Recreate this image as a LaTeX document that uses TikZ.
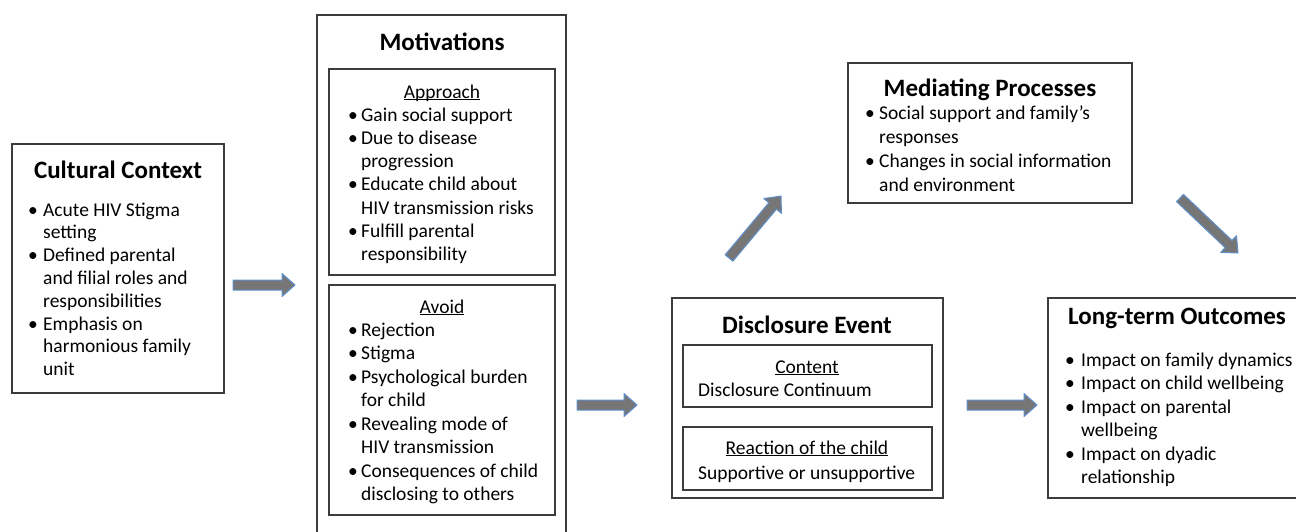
\documentclass[tikz,border=0pt]{standalone}
\usepackage{fontspec}
\setmainfont{Carlito}
\usetikzlibrary{calc}
\definecolor{boxline}{RGB}{60,60,60}
\definecolor{arrfill}{RGB}{118,118,118}
\definecolor{arrline}{RGB}{95,145,205}
\newcommand\ulin[1]{\sbox0{#1}\rlap{\rule[-2.4pt]{\wd0}{1.1pt}}\usebox0}
\newcommand\lsetup{\rightskip=0pt plus 1fil\relax\parfillskip=0pt plus 1fil\relax\spaceskip=0pt\relax\xspaceskip=0pt\relax}
\newcommand\itm[2][14pt]{\hangindent=#1\hangafter=1\noindent\makebox[#1][l]{•}#2\par}
\newcommand\blockarrow[2]{%
  \coordinate (ba-h) at ($(#2)!13pt!(#1)$);
  \draw[blockarr] ($(#1)!5pt!90:(#2)$) -- ($(ba-h)!5pt!-90:(#1)$) -- ($(ba-h)!11.5pt!-90:(#1)$) -- (#2) -- ($(ba-h)!11.5pt!90:(#1)$) -- ($(ba-h)!5pt!90:(#1)$) -- ($(#1)!5pt!-90:(#2)$) -- cycle;}
\tikzset{
  boxstyle/.style={draw=boxline, line width=1.4pt, inner sep=0pt, outer sep=0pt, anchor=north west},
  title/.style={font=\fontsize{25}{30}\selectfont\bfseries, inner sep=0pt, anchor=base},
  label/.style={font=\fontsize{19.5}{23}\selectfont, inner sep=0pt, anchor=base},
  listtext/.style={font=\fontsize{19.5}{#1}\selectfont, inner sep=0pt, anchor=base west, text width=300pt, align=left},
  listtext/.default=23.5pt,
  blockarr/.style={fill=arrfill, draw=arrline, line width=1pt, line join=round},
}
\begin{document}
\begin{tikzpicture}[x=1pt,y=-1pt]
\fill[white] (0,0) rectangle (1296,531);
\useasboundingbox (0,0) rectangle (1296,531);
\clip (0,0) rectangle (1296,531);

% Cultural Context
\node[boxstyle, minimum width=212pt, minimum height=249pt] (cc) at (12,144) {};
\node[title] (cct) at (118,178) {Cultural Context};
\node[listtext=22.8pt] (ccl) at (28,216) {\lsetup
\itm[15pt]{Acute HIV Stigma\newline setting}%
\itm[15pt]{Defined parental\newline and filial roles and\newline responsibilities}%
\itm[15pt]{Emphasis on\newline harmonious family\newline unit}};

% Motivations
\draw[draw=boxline, line width=1.4pt] (317,540) -- (317,15) -- (566,15) -- (566,540);
\node[title] (mot) at (442,50) {Motivations};
\node[boxstyle, minimum width=226pt, minimum height=206pt] (app) at (329,69) {};
\node[label] (appl) at (442,98) {\ulin{Approach}};
\node[listtext=23.3pt] (appt) at (348,121) {\lsetup
\itm[13pt]{Gain social support}%
\itm[13pt]{Due to disease\newline progression}%
\itm[13pt]{Educate child about\newline HIV transmission risks}%
\itm[13pt]{Fulfill parental\newline responsibility}};
\node[boxstyle, minimum width=226pt, minimum height=230pt] (avo) at (329,285) {};
\node[label] (avol) at (442,313) {\ulin{Avoid}};
\node[listtext=23.5pt] (avot) at (348,336) {\lsetup
\itm[13pt]{Rejection}%
\itm[13pt]{Stigma}%
\itm[13pt]{Psychological burden\newline for child}%
\itm[13pt]{Revealing mode of\newline HIV transmission}%
\itm[13pt]{Consequences of child\newline disclosing to others}};

% Disclosure Event
\node[boxstyle, minimum width=271pt, minimum height=200pt] (de) at (672,298) {};
\node[title] (det) at (807,333) {Disclosure Event};
\node[boxstyle, minimum width=249pt, minimum height=62pt] (con) at (683,345) {};
\node[label] (conl) at (807,373) {\ulin{Content}};
\node[label, anchor=base west] (cont) at (698,396) {Disclosure Continuum};
\node[boxstyle, minimum width=249pt, minimum height=63pt] (rea) at (683,427) {};
\node[label] (real) at (807,454) {\ulin{Reaction of the child}};
\node[label, anchor=base west] (reat) at (698,479) {Supportive or unsupportive};

% Mediating Processes
\node[boxstyle, minimum width=284pt, minimum height=140pt] (mp) at (848,63) {};
\node[title] (mpt) at (990,96) {Mediating Processes};
\node[listtext=24pt] (mpl) at (865,119) {\lsetup
\itm[14pt]{Social support and family’s\newline responses}%
\itm[14pt]{Changes in social information\newline and environment}};

% Long-term Outcomes
\draw[draw=boxline, line width=1.4pt] (1300,298) -- (1048,298) -- (1048,498) -- (1300,498);
\node[title, anchor=base west] (lto) at (1068,324) {Long-term Outcomes};
\node[listtext=23.5pt, text width=231pt] (ltl) at (1065,366) {\lsetup
\itm[16pt]{Impact on family dynamics}%
\itm[16pt]{Impact on child wellbeing}%
\itm[16pt]{Impact on parental\newline wellbeing}%
\itm[16pt]{Impact on dyadic\newline relationship}};

% Arrows
\coordinate (a1s) at (233,285); \coordinate (a1e) at (295,285);
\coordinate (a2s) at (577,405); \coordinate (a2e) at (637,405);
\coordinate (a3s) at (967,405); \coordinate (a3e) at (1037,405);
\coordinate (a4s) at (729,258); \coordinate (a4e) at (781,196);
\coordinate (a5s) at (1180,198); \coordinate (a5e) at (1238,253);
\blockarrow{a1s}{a1e}
\blockarrow{a2s}{a2e}
\blockarrow{a3s}{a3e}
\blockarrow{a4s}{a4e}
\blockarrow{a5s}{a5e}
\end{tikzpicture}
\end{document}
